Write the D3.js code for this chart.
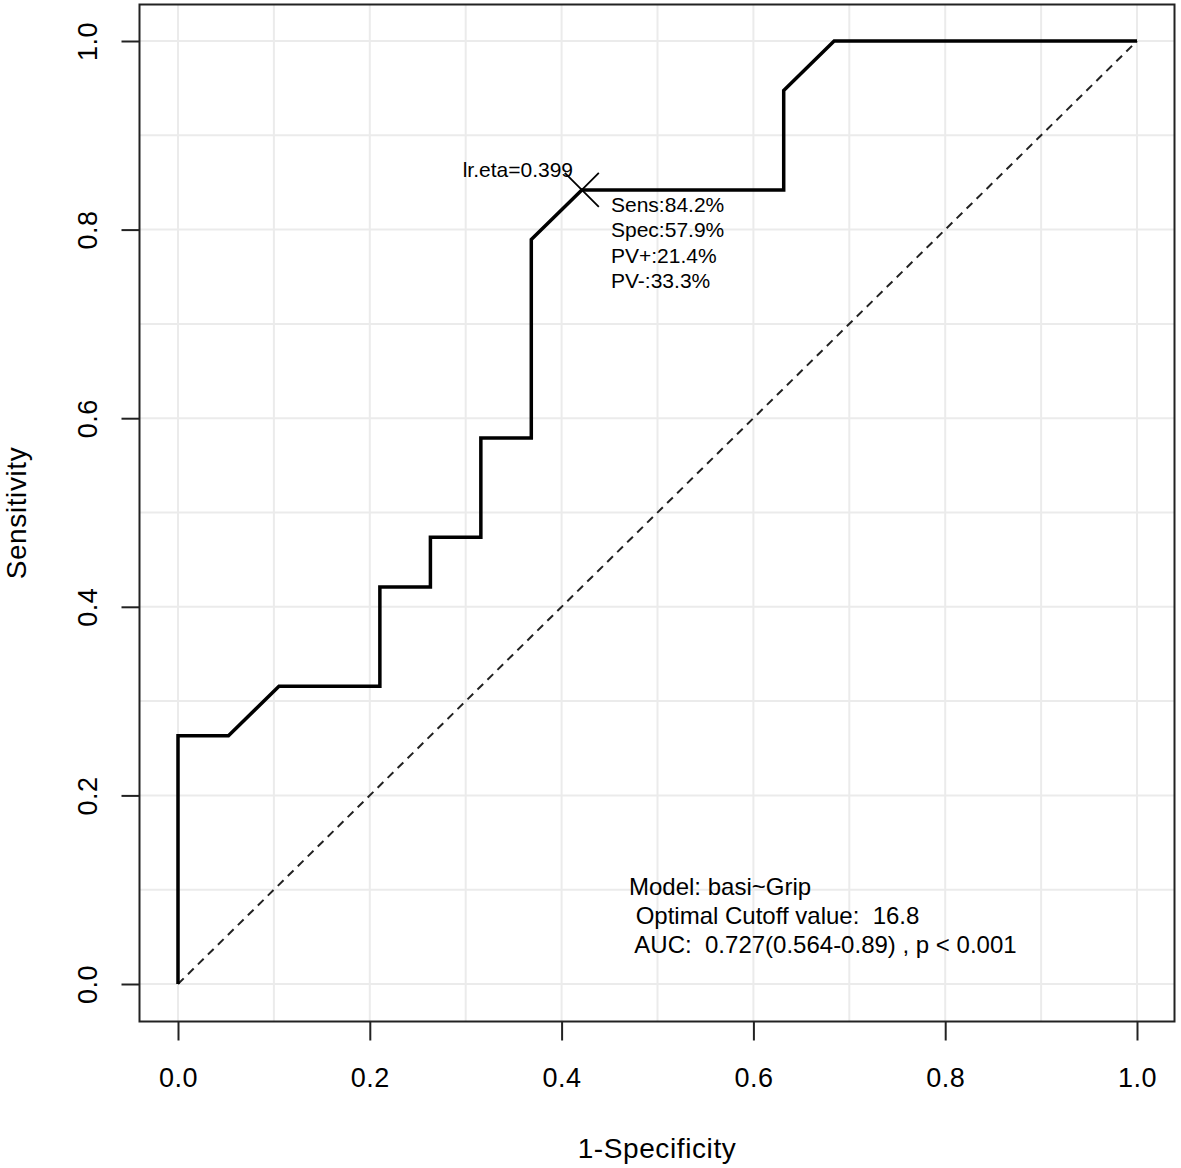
<!DOCTYPE html>
<html><head><meta charset="utf-8">
<script src="https://cdn.jsdelivr.net/npm/d3@7"></script>
<style>body{margin:0;background:#fff}svg{display:block}text{font-family:"Liberation Sans",Arial,sans-serif;fill:#000}</style>
</head><body>
<script>
const fprValues = [0, 0, 0.0526, 0.1053, 0.2105, 0.2105, 0.2632, 0.2632, 0.3158, 0.3158, 0.3684, 0.3684, 0.4211, 0.6316, 0.6316, 0.6842, 1];
const tprValues = [0, 0.2632, 0.2632, 0.3158, 0.3158, 0.4211, 0.4211, 0.4737, 0.4737, 0.5789, 0.5789, 0.7895, 0.8421, 0.8421, 0.9474, 1, 1];
const tickValues = [0, 0.2, 0.4, 0.6, 0.8, 1.0];
const gridValues = [0, 0.1, 0.2, 0.3, 0.4, 0.5, 0.6, 0.7, 0.8, 0.9, 1.0];
const cutPoint = {fpr: 0.4211, tpr: 0.8421, label: "lr.eta=0.399"};
const cutStats = ["Sens:84.2%", "Spec:57.9%", "PV+:21.4%", "PV-:33.3%"];
const modelText = ["Model: basi~Grip", " Optimal Cutoff value:  16.8", " AUC:  0.727(0.564-0.89) , p < 0.001"];

const W = 1181, H = 1168;
const box = {l: 139.5, t: 4.5, r: 1174.5, b: 1021.5};
const x = d3.scaleLinear().domain([0, 1]).range([178, 1137]);
const y = d3.scaleLinear().domain([0, 1]).range([984, 41]);
const FF = '"Liberation Sans",Arial,sans-serif';

const svg = d3.select("body").append("svg").attr("width", W).attr("height", H);

// grid
svg.append("g").selectAll("line").data(gridValues).join("line")
  .attr("x1", d => x(d)).attr("x2", d => x(d)).attr("y1", box.t).attr("y2", box.b)
  .attr("stroke", "#ebebeb").attr("stroke-width", 2);
svg.append("g").selectAll("line").data(gridValues).join("line")
  .attr("y1", d => y(d)).attr("y2", d => y(d)).attr("x1", box.l).attr("x2", box.r)
  .attr("stroke", "#ebebeb").attr("stroke-width", 2);

// diagonal
svg.append("line").attr("x1", x(0)).attr("y1", y(0)).attr("x2", x(1)).attr("y2", y(1))
  .attr("stroke", "#222").attr("stroke-width", 2).attr("stroke-dasharray", "8,6");

// ROC
const pts = fprValues.map((f, i) => [f, tprValues[i]]);
svg.append("path").datum(pts)
  .attr("d", d3.line().x(d => x(d[0])).y(d => y(d[1])))
  .attr("fill", "none").attr("stroke", "#000").attr("stroke-width", 3.5).attr("stroke-linejoin", "miter");

// box
svg.append("rect").attr("x", box.l).attr("y", box.t).attr("width", box.r - box.l).attr("height", box.b - box.t)
  .attr("fill", "none").attr("stroke", "#222").attr("stroke-width", 2);

// axes
const xAxis = d3.axisBottom(x).tickValues(tickValues).tickFormat(d3.format(".1f")).tickSize(19).tickPadding(27);
const gx = svg.append("g").attr("transform", `translate(0,${box.b})`).call(xAxis);
gx.select(".domain").remove();
gx.selectAll("line").attr("stroke", "#222").attr("stroke-width", 2);
gx.selectAll("text").attr("font-size", 27).attr("letter-spacing", 0.5).style("font-family", FF);

const yAxis = d3.axisLeft(y).tickValues(tickValues).tickFormat(d3.format(".1f")).tickSize(18).tickPadding(0);
const gy = svg.append("g").attr("transform", `translate(${box.l},0)`).call(yAxis);
gy.select(".domain").remove();
gy.selectAll("line").attr("stroke", "#222").attr("stroke-width", 2);
gy.selectAll("text").attr("font-size", 27).attr("letter-spacing", 0.5).attr("x", null)
  .attr("text-anchor", "middle")
  .attr("transform", "translate(-52,0) rotate(-90)").attr("dy", "0.35em")
  .style("font-family", FF);

// titles
svg.append("text").attr("x", 657).attr("y", 1158).attr("text-anchor", "middle").attr("font-size", 28).attr("letter-spacing", 0.6).text("1-Specificity");
svg.append("text").attr("transform", "translate(26,513) rotate(-90)").attr("text-anchor", "middle").attr("font-size", 28).attr("letter-spacing", 0.6).text("Sensitivity");

// cutoff marker
const cx = x(cutPoint.fpr), cy = y(cutPoint.tpr), s = 17;
svg.append("path").attr("d", `M${cx - s},${cy - s}L${cx + s},${cy + s}M${cx - s},${cy + s}L${cx + s},${cy - s}`)
  .attr("stroke", "#000").attr("stroke-width", 1.8);
svg.append("text").attr("x", 573).attr("y", 177).attr("text-anchor", "end").attr("font-size", 21).text(cutPoint.label);
svg.append("g").selectAll("text").data(cutStats).join("text")
  .attr("x", 611).attr("y", (d, i) => 212 + i * 25.3).attr("font-size", 21).text(d => d);

// model text
svg.append("g").selectAll("text").data(modelText).join("text")
  .attr("x", 629).attr("y", (d, i) => 895 + i * 29).attr("font-size", 24)
  .style("white-space", "pre").attr("xml:space", "preserve").text(d => d);
</script>
</body></html>
